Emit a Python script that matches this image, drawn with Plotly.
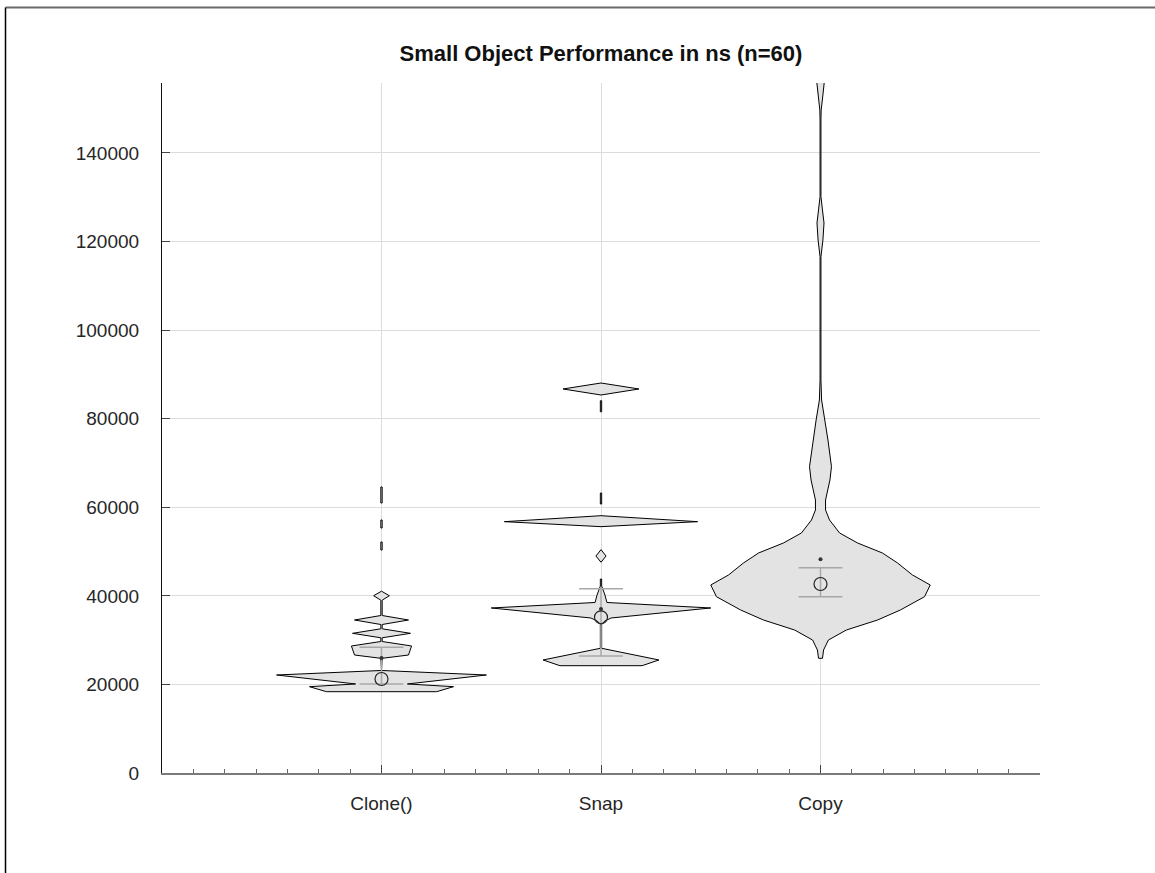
import numpy as np
import plotly.graph_objects as go

nan = np.nan

categories = ["Clone()", "Snap", "Copy"]
positions = [1, 2, 3]

# Density outlines: value (ns) and half-width (category units).
# NaN separates disconnected pieces of an outline.
clone_y = [18360, 19490, 20100, 22130, 23150, 25900, 26640, 28680, 29690, 30530,
           31540, 32560, 33530, 34550, 35560, 39020, 40030, 41050, nan,
           50350, 52160, nan, 55320, 57130, nan, 60970, 64580]
clone_w = [0.251, 0.328, 0.118, 0.478, 0.0, 0.003, 0.123, 0.137, 0.003, 0.003,
           0.132, 0.003, 0.003, 0.123, 0.003, 0.003, 0.036, 0.0, nan,
           0.003, 0.003, nan, 0.003, 0.003, nan, 0.003, 0.003]

snap_y = [24230, 25520, 28160, 33640, 34330, 35000, 37260, 38500, 40190, 41770,
          42220, 43800, nan, 47580, 49000, 50420, nan, 55620, 56750, 58100, nan,
          60740, 63220, nan, 81570, 84060, nan, 85350, 86710, 88060]
snap_w = [0.187, 0.264, 0.003, 0.003, 0.018, 0.046, 0.50, 0.027, 0.018, 0.007,
          0.003, 0.003, nan, 0.0, 0.023, 0.0, nan, 0.0, 0.44, 0.0, nan,
          0.003, 0.003, nan, 0.003, 0.003, nan, 0.0, 0.173, 0.0]

copy_y = [25900, 27770, 30030, 32290, 34550, 36810, 39810, 42450, 44710, 47420,
          49680, 51930, 54190, 57130, 59390, 61640, 66160, 69160, 75190, 79710,
          84220, 88740, 116580, 120350, 124190, 127130, 130130, 147450, 149700,
          153100, 156030, 158740]
copy_w = [0.009, 0.014, 0.036, 0.118, 0.26, 0.364, 0.474, 0.50, 0.419, 0.351,
          0.282, 0.169, 0.087, 0.041, 0.023, 0.023, 0.043, 0.050, 0.034, 0.020,
          0.005, 0.002, 0.002, 0.011, 0.016, 0.009, 0.002, 0.002, 0.003,
          0.011, 0.017, 0.023]

medians = [21225, 35160, 42680]
q1 = [20100, 26420, 39820]
q3 = [28380, 41620, 46360]
means = [25970, 37030, 48250]

y_ticks = [0, 20000, 40000, 60000, 80000, 100000, 120000, 140000]

outlines = [(clone_y, clone_w), (snap_y, snap_w), (copy_y, copy_w)]

FILL = "#e3e3e3"
GRID = "#dcdcdc"
FONT = "Liberation Sans, Arial, Helvetica, sans-serif"

fig = go.Figure()


def segments(ys, ws):
    seg_y, seg_w = [], []
    out = []
    for y, w in zip(ys, ws):
        if np.isnan(y):
            if seg_y:
                out.append((seg_y, seg_w))
            seg_y, seg_w = [], []
        else:
            seg_y.append(y)
            seg_w.append(w)
    if seg_y:
        out.append((seg_y, seg_w))
    return out


for pos, (ys, ws) in zip(positions, outlines):
    px, py = [], []
    for sy, sw in segments(ys, ws):
        xs = [pos + w for w in sw] + [pos - w for w in reversed(sw)]
        yy = list(sy) + list(reversed(sy))
        xs.append(xs[0])
        yy.append(yy[0])
        px += xs + [None]
        py += yy + [None]
    fig.add_trace(go.Scatter(x=px, y=py, mode="lines", fill="toself",
                             fillcolor=FILL, line=dict(color="black", width=1),
                             hoverinfo="skip", showlegend=False))

# quartile bars and connecting line
qx, qy = [], []
for pos, a, b in zip(positions, q1, q3):
    qx += [pos - 0.1, pos + 0.1, None, pos - 0.1, pos + 0.1, None, pos, pos, None]
    qy += [a, a, None, b, b, None, a, b, None]
fig.add_trace(go.Scatter(x=qx, y=qy, mode="lines",
                         line=dict(color="#a8a8a8", width=1.5),
                         hoverinfo="skip", showlegend=False))

fig.add_trace(go.Scatter(x=positions, y=medians, mode="markers",
                         marker=dict(symbol="circle-open", size=13,
                                     color="#222222", line=dict(width=1.2)),
                         showlegend=False))
fig.add_trace(go.Scatter(x=positions, y=means, mode="markers",
                         marker=dict(symbol="circle", size=4, color="#333333"),
                         showlegend=False))

L, R, T, B = 162, 1040, 83, 773
W, H = 1155, 873
pw, ph = R - L, B - T


def pxx(x):
    return (x - L) / pw


def pyy(y):
    return (B - y) / ph


fig.add_shape(type="line", xref="paper", yref="paper",
              x0=pxx(5.5), x1=pxx(1160), y0=pyy(7.5), y1=pyy(7.5),
              line=dict(color="#6a6a6a", width=2))
fig.add_shape(type="line", xref="paper", yref="paper",
              x0=pxx(5.5), x1=pxx(5.5), y0=pyy(7.5), y1=pyy(880),
              line=dict(color="black", width=1.5))

fig.update_layout(
    width=W, height=H,
    margin=dict(l=L, r=W - R, t=T, b=H - B),
    paper_bgcolor="white", plot_bgcolor="white",
    title=dict(text="<b>Small Object Performance in ns (n=60)</b>",
               xref="container", x=601 / W, xanchor="center",
               yref="container", y=1 - 53 / H, yanchor="middle",
               font=dict(family=FONT, size=22, color="#111111")),
    font=dict(family=FONT, size=19, color="#262626"),
)

fig.update_xaxes(range=[0, 4], tickmode="array", tickvals=positions,
                 ticktext=categories, showgrid=True, gridcolor=GRID,
                 gridwidth=1, ticks="inside", ticklen=8, tickcolor="#444444",
                 showline=True, linecolor="#7a7a7a", linewidth=2,
                 zeroline=False, tickfont=dict(size=19, color="#262626"),
                 ticklabelstandoff=12,
                 minor=dict(tickmode="linear", tick0=0, dtick=1 / 7,
                            ticks="inside", ticklen=4, tickcolor="#666666",
                            showgrid=False),
                 fixedrange=True)
fig.update_yaxes(range=[0, 155800], tickmode="array", tickvals=y_ticks,
                 tickformat="d", showgrid=True, gridcolor=GRID, gridwidth=1,
                 ticks="inside", ticklen=8, tickcolor="#444444",
                 showline=True, linecolor="#111111", linewidth=1.2,
                 zeroline=False, tickfont=dict(size=19, color="#262626"),
                 ticklabelstandoff=18, fixedrange=True)

fig.write_html("out.html", config={"displayModeBar": False},
               post_script="document.body.style.margin='0';"
                           "document.body.style.overflow='hidden';")
